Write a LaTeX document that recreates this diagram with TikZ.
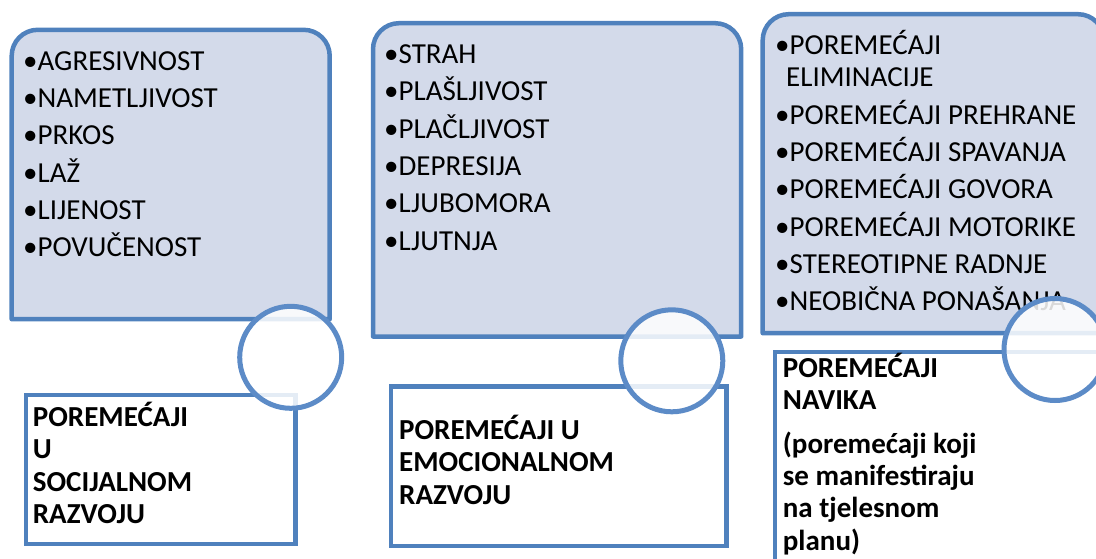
\documentclass[tikz,border=0pt]{standalone}
\usepackage{fontspec}
\setmainfont{Carlito}
\usetikzlibrary{positioning}
\definecolor{boxblue}{RGB}{79,129,189}
\definecolor{boxfill}{RGB}{211,218,234}
\definecolor{ringblue}{RGB}{92,139,199}

\begin{document}
\begin{tikzpicture}[x=1pt, y=1pt,
    listbox/.style = {draw=boxblue, fill=boxfill, line width=4.5pt, line join=round},
    titlebox/.style = {rectangle, draw=boxblue, fill=white, line width=4.5pt, inner sep=0, anchor=north west},
    item/.style = {anchor=base west, inner sep=0, align=left, font=\fontsize{29}{32}\selectfont},
    title/.style = {anchor=base west, inner sep=0, align=left, font=\bfseries\fontsize{29}{32.2}\selectfont},
    joint/.style = {circle, draw=ringblue, fill=white, fill opacity=.85, line width=5pt, minimum size=102pt, inner sep=0}
    ]
    \useasboundingbox (0,0) rectangle (1096,-558);
    \clip (0,0) rectangle (1096,-558);

    % upper boxes, only the top corners rounded
    \draw[listbox] (11.7,-319.2) -- (11.7,-55.8) arc[start angle=180, end angle=90, radius=26]
        -- (303.7,-29.8) arc[start angle=90, end angle=0, radius=26] -- (329.7,-319.2) -- cycle;
    \draw[listbox] (373,-336.5) -- (373,-49.2) arc[start angle=180, end angle=90, radius=26]
        -- (715.2,-23.2) arc[start angle=90, end angle=0, radius=26] -- (741.2,-336.5) -- cycle;
    \draw[listbox] (762.7,-333.2) -- (762.7,-40.2) arc[start angle=180, end angle=90, radius=26]
        -- (1078,-14.2) arc[start angle=90, end angle=0, radius=26] -- (1104,-333.2) -- cycle;

    % lower boxes
    \node[titlebox, minimum width=269.2, minimum height=148.9] (social) at (23.8,-392.8) {};
    \node[titlebox, minimum width=335.6, minimum height=159.8] (emotional) at (388.7,-384) {};
    \node[titlebox, minimum width=337.3, minimum height=230.3] (habits) at (772.7,-349.7) {};

    % base of a multi-line node is its last line
    \node[item] (socitems) at (23,-256.7) {•AGRESIVNOST\\[5.3pt]•NAMETLJIVOST\\[5.3pt]•PRKOS\\[5.3pt]%
        •LAŽ\\[5.3pt]•LIJENOST\\[5.3pt]•POVUČENOST};
    \node[item] (emoitems) at (384,-250) {•STRAH\\[5.3pt]•PLAŠLJIVOST\\[5.3pt]•PLAČLJIVOST\\[5.3pt]%
        •DEPRESIJA\\[5.3pt]•LJUBOMORA\\[5.3pt]•LJUTNJA};
    \node[item] (navitems) at (775,-310.7) {•POREMEĆAJI\\\hspace*{11pt}ELIMINACIJE\\[5.3pt]%
        •POREMEĆAJI PREHRANE\\[5.3pt]•POREMEĆAJI SPAVANJA\\[5.3pt]•POREMEĆAJI GOVORA\\[5.3pt]%
        •POREMEĆAJI MOTORIKE\\[5.3pt]•STEREOTIPNE RADNJE\\[5.3pt]•NEOBIČNA PONAŠANJA};

    \node[title] (soctitle) at (32.7,-523.3) {POREMEĆAJI\\U\\SOCIJALNOM\\RAZVOJU};
    \node[title] (emotitle) at (399,-504) {POREMEĆAJI U\\EMOCIONALNOM\\RAZVOJU};
    \node[title] (navtitle) at (782.7,-550) {POREMEĆAJI\\NAVIKA\\[11.8pt](poremećaji koji\\%
        se manifestiraju\\na tjelesnom\\planu)};

    % rings over the joins
    \node[joint] (socjoint) at (290.7,-357.3) {};
    \node[joint] (emojoint) at (671.8,-360.8) {};
    \node[joint] (navjoint) at (1055,-349.5) {};
\end{tikzpicture}
\end{document}
